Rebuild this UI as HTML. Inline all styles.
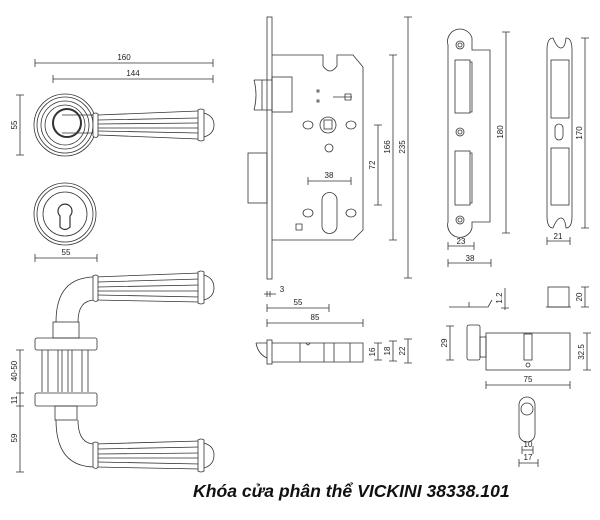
<!DOCTYPE html>
<html><head><meta charset="utf-8"><style>
html,body{margin:0;padding:0;background:#fff;width:600px;height:520px;overflow:hidden}
svg{display:block}
text{font-family:"Liberation Sans",sans-serif;font-size:8px;fill:#222}
</style></head><body>
<svg width="600" height="520" viewBox="0 0 600 520" xmlns="http://www.w3.org/2000/svg">
<g stroke="#333" stroke-width="0.8" fill="none">
<path d="M35 63H213M35 59v8M213 59v8M53 79H213M53 75v8M213 75v8M20 95V155M16 95h8M16 155h8"/>
<circle cx="65" cy="125" r="31"/><circle cx="65" cy="125" r="28"/><circle cx="65" cy="125" r="24"/><circle cx="65" cy="125" r="20"/>
<circle cx="67" cy="123" r="14" stroke-width="2"/>
<path d="M62 115H94M62 133H94" />
<path d="M93 114Q96 112 98 114V136Q96 139 93 136Z" fill="#fff"/>
<path d="M98 115L198 111M98 135L198 139M98 120L198 118M98 124L198 123M98 128L198 128M98 131L198 133"/>
<path d="M198 110Q201 108 204 110V140Q201 142 198 140Z" fill="#fff"/>
<path d="M204 113Q214 116 214 125Q214 134 204 137"/>
<circle cx="65" cy="214" r="31"/><circle cx="65" cy="214" r="28"/><circle cx="65" cy="214" r="22"/>
<path d="M60 216A7 7 0 1 1 70 216L70 227Q65 232 60 227Z" stroke-width="1.2"/>
<path d="M35 258H97M35 254v8M97 254v8"/>
<path d="M95 277Q56 277 56 322M95 300Q78 300 78 322"/>
<path d="M95 277L200 273M95 300L200 302M98 282L200 279M98 287L200 285M98 291L200 291M98 295L200 297"/>
<path d="M93 276Q96 274 98 276V300Q96 303 93 300Z" fill="#fff"/>
<path d="M198 272Q201 270 204 272V303Q201 305 198 303Z" fill="#fff"/>
<path d="M204 275Q214 278 214 288Q214 297 204 300"/>
<rect x="53" y="322" width="26" height="16"/>
<rect x="35" y="338" width="62" height="12" rx="2"/>
<path d="M42 350V392M48 350V392M82 350V392M88 350V392M58 350V392M62 350V392M68 350V392M72 350V392"/>
<rect x="35" y="393" width="62" height="13" rx="2"/>
<rect x="55" y="406" width="22" height="14"/>
<path d="M56 420Q56 467 95 467M78 420Q78 444 95 444"/>
<path d="M95 444L200 441M95 467L200 469M98 449L200 447M98 454L200 453M98 458L200 458M98 462L200 464"/>
<path d="M93 443Q96 441 98 443V467Q96 470 93 467Z" fill="#fff"/>
<path d="M198 440Q201 438 204 440V471Q201 473 198 471Z" fill="#fff"/>
<path d="M204 443Q214 446 214 455Q214 465 204 468"/>
<path d="M20 350V472M16 350h8M16 393h8M16 406h8M16 472h8"/>
<rect x="267" y="17" width="5" height="262"/>
<path d="M272 55H323V66Q330 76 337 66V55H353L363 67V230L353 240H272"/>
<rect x="272" y="77" width="20" height="35"/>
<path d="M254 80H272M254 110H272M254 80Q258 95 254 110M262 80V110"/>
<rect x="248" y="153" width="19" height="50"/>
<circle cx="328" cy="125" r="8"/><rect x="324" y="120" width="8" height="9"/>
<ellipse cx="308" cy="125" rx="5" ry="4"/><ellipse cx="351" cy="125" rx="5" ry="4"/>
<circle cx="329" cy="148" r="4"/>
<ellipse cx="308" cy="213" rx="5" ry="4"/><ellipse cx="351" cy="213" rx="5" ry="4"/>
<path d="M322 200A7.5 7.5 0 0 1 337 200V226A7.5 7.5 0 0 1 322 226Z"/>
<rect x="317" y="90" width="2" height="2"/><rect x="317" y="100" width="2" height="2"/>
<path d="M333 97H352M345 94h6v6h-6z"/>
<path d="M296 224h6v6h-6z"/>
<path d="M308 181H351M308 177v8M351 177v8M378 125V205M374 125h8M374 205h8M393 55V240M389 55h8M389 240h8M408 17V278M404 17h8M404 278h8"/>
<path d="M448 45A12 12 0 0 1 472 38V50H490V222H472V228A12 12 0 0 1 448 222Z"/>
<circle cx="460" cy="45" r="4"/><circle cx="460" cy="45" r="2"/>
<circle cx="460" cy="220" r="4"/><circle cx="460" cy="220" r="2"/>
<circle cx="460" cy="132" r="4"/><circle cx="460" cy="132" r="2"/>
<rect x="455" y="60" width="15" height="53"/><rect x="455" y="151" width="15" height="54"/>
<path d="M470 62h2v50h-2M470 153h2v50h-2"/>
<path d="M506 32V233M502 32h8M502 233h8M448 246H474M448 242v8M474 242v8M448 263H491M448 259v8M491 259v8"/>
<path d="M547 50Q547 38 553 38Q557 48 561 48Q565 48 566 38Q572 38 572 50V216Q572 228 566 228Q565 218 561 218Q557 218 553 228Q547 228 547 216Z"/>
<rect x="551" y="60" width="18" height="58"/><rect x="551" y="148" width="18" height="57"/>
<rect x="555" y="124" width="8" height="16" rx="4"/>
<path d="M585 38V228M581 38h8M581 228h8M547 241H570M547 237v8M570 237v8"/>
<path d="M267 291V297M270 291V297M264 294H276M267 308H329M267 304v8M329 304v8M267 323H363M267 319v8M363 319v8"/>
<rect x="267" y="340" width="5" height="24"/>
<path d="M272 343H363V362H272M256 343H267M256 343Q258 354 267 358M300 343V362M324 343V362M334 343V362M350 343V362"/>
<path d="M306 343Q308 347 310 343"/>
<path d="M378 343V360M374 343h8M374 360h8M393 341V361M389 341h8M389 361h8M408 339V363M404 339h8M404 363h8"/>
<path d="M449 307H488L492 300M469 302V307"/>
<path d="M505 288V310M501 308h8"/>
<rect x="548" y="287" width="21" height="20"/>
<path d="M546 307H571M585 287V307M581 287h8M581 307h8"/>
<rect x="467" y="325" width="13" height="35" rx="2"/>
<rect x="480" y="337" width="6" height="20"/>
<rect x="486" y="333" width="84" height="37"/>
<rect x="524" y="334" width="8" height="26"/>
<circle cx="528" cy="365" r="2"/>
<path d="M450 326V360M446 326h8M446 360h8M587 333V370M583 333h8M583 370h8M486 385H570M486 381v8M570 381v8"/>
<path d="M519 405A8 8 0 0 1 535 405V434A8 8 0 0 1 519 434Z"/>
<circle cx="527" cy="409" r="6"/>
<path d="M522 450H533M522 446v8M533 446v8M519 463H538M519 459v8M538 459v8"/>
</g>
<g>
<text x="124" y="60" text-anchor="middle">160</text>
<text x="133" y="76" text-anchor="middle">144</text>
<text x="66" y="255" text-anchor="middle">55</text>
<text transform="translate(17 125) rotate(-90)" text-anchor="middle">55</text>
<text transform="translate(17 371) rotate(-90)" text-anchor="middle">40-50</text>
<text transform="translate(17 400) rotate(-90)" text-anchor="middle">11</text>
<text transform="translate(17 438) rotate(-90)" text-anchor="middle">59</text>
<text x="329" y="178" text-anchor="middle">38</text>
<text transform="translate(375 165) rotate(-90)" text-anchor="middle">72</text>
<text transform="translate(390 147) rotate(-90)" text-anchor="middle">166</text>
<text transform="translate(405 147) rotate(-90)" text-anchor="middle">235</text>
<text transform="translate(503 132) rotate(-90)" text-anchor="middle">180</text>
<text x="461" y="244" text-anchor="middle">23</text>
<text x="470" y="261" text-anchor="middle">38</text>
<text transform="translate(582 133) rotate(-90)" text-anchor="middle">170</text>
<text x="558" y="239" text-anchor="middle">21</text>
<text x="282" y="292" text-anchor="middle">3</text>
<text x="298" y="305" text-anchor="middle">55</text>
<text x="315" y="320" text-anchor="middle">85</text>
<text transform="translate(375 352) rotate(-90)" text-anchor="middle">16</text>
<text transform="translate(390 351) rotate(-90)" text-anchor="middle">18</text>
<text transform="translate(405 351) rotate(-90)" text-anchor="middle">22</text>
<text transform="translate(502 298) rotate(-90)" text-anchor="middle">1.2</text>
<text transform="translate(582 297) rotate(-90)" text-anchor="middle">20</text>
<text transform="translate(447 343) rotate(-90)" text-anchor="middle">29</text>
<text transform="translate(584 352) rotate(-90)" text-anchor="middle">32.5</text>
<text x="528" y="382" text-anchor="middle">75</text>
<text x="528" y="447" text-anchor="middle">10</text>
<text x="528" y="460" text-anchor="middle">17</text>
<text x="193" y="497" style="font-size:17.6px;font-weight:bold;font-style:italic;fill:#111">Khóa cửa phân thể VICKINI 38338.101</text>
</g>
</svg>
</body></html>
